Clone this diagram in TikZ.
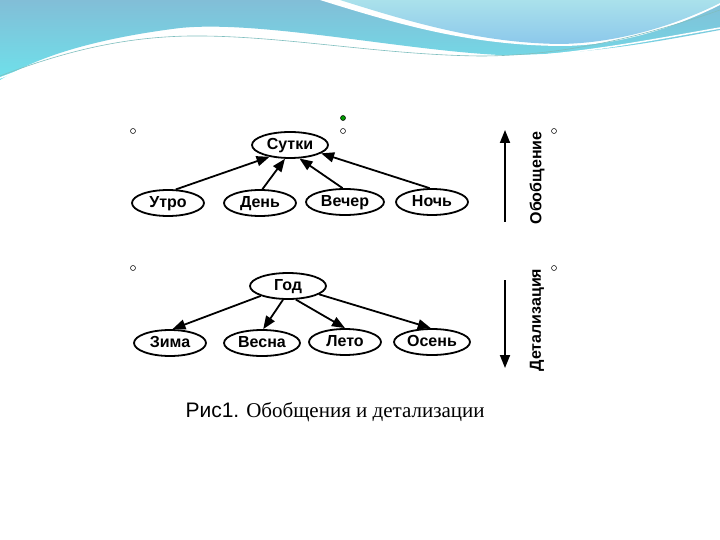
\documentclass[tikz,border=0pt]{standalone}
\usepackage{fontspec}
\setmainfont{Liberation Serif}
\newfontfamily\arialf{Liberation Sans}
\usetikzlibrary{arrows.meta,shapes.geometric}
\definecolor{wtop}{RGB}{130,190,215}
\definecolor{wbot}{RGB}{110,225,235}
\definecolor{btop}{RGB}{170,225,235}
\definecolor{bbot}{RGB}{140,200,235}
\begin{document}
\begin{tikzpicture}[x=1pt,y=-1pt,
  el/.style={draw,line width=1.8pt,ellipse,minimum width=72pt,minimum height=26pt,inner sep=0pt,text height=11pt,text depth=2pt,font=\arialf\bfseries\fontsize{16}{16}\selectfont},
  ar/.style={line width=1.8pt,-{Triangle[length=13pt,width=10pt]}},
  hd/.style={draw,circle,inner sep=0pt,minimum size=5pt,line width=0.5pt}]
\useasboundingbox (0,0) rectangle (720,540);
\fill[white] (0,0) rectangle (720,540);
% header waves
\shade[top color=wtop,bottom color=wbot] (0,0) -- (720,0) -- (720,30) .. controls (640,45) and (580,55) .. (500,55) .. controls (400,50) and (260,20) .. (180,28) .. controls (100,38) and (40,55) .. (0,80) -- cycle;
\fill[white] (320,0) .. controls (400,25) and (470,45) .. (560,46) .. controls (630,46) and (690,20) .. (720,5) -- (720,0) -- cycle;
\shade[top color=btop,bottom color=bbot] (340,0) .. controls (410,22) and (480,43) .. (560,44) .. controls (630,43) and (690,18) .. (720,3) -- (720,0) -- cycle;
\draw[white,line width=1.5pt] (0,78) .. controls (60,55) and (120,38) .. (190,37) .. controls (280,36) and (380,57) .. (480,58) .. controls (560,58) and (640,42) .. (720,28);
\draw[teal!50,line width=0.6pt] (0,76) .. controls (60,53) and (120,37) .. (190,36) .. controls (280,35) and (380,55) .. (480,56) .. controls (560,56) and (640,38) .. (720,10);
% handles
\node[hd] (h1) at (133,131) {};
\node[hd] (h2) at (343,131) {};
\node[hd] (h3) at (554,131) {};
\node[hd] (h4) at (133,268) {};
\node[hd] (h5) at (554,268) {};
\node[hd,fill=green!60!black] (hg) at (343,118) {};
% top tree
\node[el,minimum width=76pt] (s) at (290,145) {Сутки};
\node[el] (u) at (168,203) {Утро};
\node[el] (d) at (260,203) {День};
\node[el,minimum width=78pt] (v) at (345,202) {Вечер};
\node[el] (n) at (432,202) {Ночь};
\draw[ar] (u.60) -- (s.210);
\draw[ar] (d.80) -- (s.-110);
\draw[ar] (v.100) -- (s.-55);
\draw[ar] (n.100) -- (s.-15);
% bottom tree
\node[el,minimum width=76pt] (g) at (288,286) {Год};
\node[el] (z) at (170,343) {Зима};
\node[el,minimum width=76pt] (b) at (262,343) {Весна};
\node[el] (l) at (345,342) {Лето};
\node[el,minimum width=76pt] (o) at (432,342) {Осень};
\draw[ar] (g.200) -- (z.80);
\draw[ar] (g.-110) -- (b.85);
\draw[ar] (g.-60) -- (l.90);
\draw[ar] (g.-15) -- (o.95);
% side arrows
\coordinate (a1) at (505,222);
\coordinate (a2) at (505,130);
\draw[ar] (a1) -- (a2);
\node[rotate=90,font=\arialf\bfseries\fontsize{16}{16}\selectfont] (lo) at (537,178) {Обобщение};
\coordinate (b1) at (505,280);
\coordinate (b2) at (505,368);
\draw[ar] (b1) -- (b2);
\node[rotate=90,font=\arialf\bfseries\fontsize{16}{16}\selectfont] (ld) at (537,320) {Детализация};
% caption
\node[anchor=west,font=\fontsize{21}{21}\selectfont] (cap) at (182,412) {{\arialf Рис1.} Обобщения и детализации};
\end{tikzpicture}
\end{document}
